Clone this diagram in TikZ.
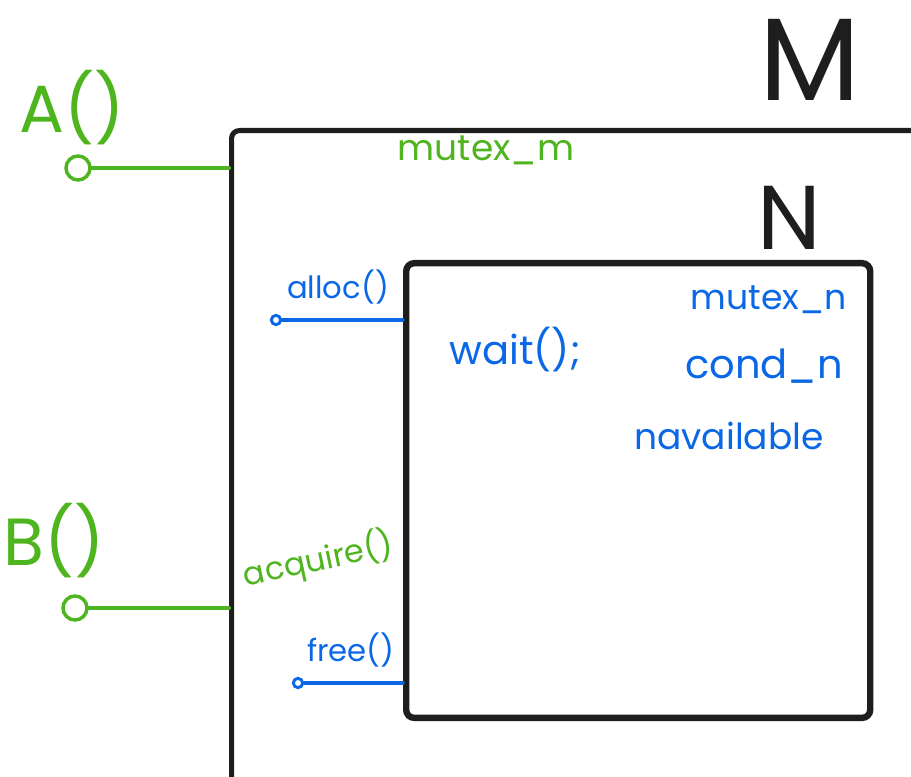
\documentclass[tikz,border=0pt]{standalone}
\usepackage{fontspec}
\setmainfont{Poppins}
\usepackage{tikz}

\definecolor{mgreen}{RGB}{78,181,30}
\definecolor{nblue}{RGB}{10,104,230}
\definecolor{ink}{RGB}{30,30,30}

\begin{document}
\begin{tikzpicture}[x=0.75pt,y=0.75pt,yscale=-1,xscale=1,
  box/.style={draw=ink,rectangle,rounded corners=6pt,anchor=north west,inner sep=0pt},
  gport/.style={draw=mgreen,circle,line width=2.6pt,minimum size=18pt,inner sep=0pt},
  bport/.style={draw=nblue,circle,line width=2.2pt,minimum size=7pt,inner sep=0pt},
  gwire/.style={draw=mgreen,line width=3pt,line cap=round},
  bwire/.style={draw=nblue,line width=2.5pt,line cap=round},
  gtext/.style={text=mgreen,inner sep=0pt},
  btext/.style={text=nblue,inner sep=0pt},
  bigletter/.style={text=ink,inner sep=0pt}]
\useasboundingbox (0,0) rectangle (911,777);
\clip (0,0) rectangle (911,777);

%Shape: Outer box M
\node[box,line width=3.8pt,minimum width=750pt,minimum height=600pt] (M) at (229,128) {};
%Shape: Inner box N
\node[box,line width=4.8pt,minimum width=348pt,minimum height=341pt] (N) at (403,260) {};

% Box labels
\node[bigletter,font=\fontsize{88}{90}\selectfont] (Mlab) at (810,60) {M};
\node[bigletter,font=\fontsize{68}{70}\selectfont] (Nlab) at (789,218) {N};

% Ports of M
\node[gport] (pA) at (78,168) {};
\node[gport] (pB) at (75,608) {};
\draw[gwire] (pA) -- (pA -| M.west);
\draw[gwire] (pB) -- (pB -| M.west);

% Ports of N
\node[bport] (pAlloc) at (276,320) {};
\node[bport] (pFree) at (298,683) {};
\draw[bwire] (pAlloc) -- (pAlloc -| N.west);
\draw[bwire] (pFree) -- (pFree -| N.west);

% Text Node
\node[gtext,font=\fontsize{50}{52}\selectfont] (tA) at (72,108) {A()};
\node[gtext,font=\fontsize{50}{52}\selectfont] (tB) at (54,541) {B()};
\node[gtext,font=\fontsize{27}{29}\selectfont] (tMutexM) at (486,150) {mutex\_m};
\node[gtext,font=\fontsize{24}{26}\selectfont,rotate=12] (tAcquire) at (318,560) {acquire()};
% Text Node
\node[btext,font=\fontsize{23}{25}\selectfont] (tAlloc) at (338,287) {alloc()};
\node[btext,font=\fontsize{23}{25}\selectfont] (tFree) at (351,650) {free()};
\node[btext,font=\fontsize{30}{32}\selectfont] (tWait) at (515,350) {wait();};
\node[btext,font=\fontsize{26}{28}\selectfont] (tMutexN) at (769,300) {mutex\_n};
\node[btext,font=\fontsize{30}{32}\selectfont] (tCond) at (764,366) {cond\_n};
\node[btext,font=\fontsize{27}{29}\selectfont] (tNavail) at (729,436) {navailable};

\end{tikzpicture}
\end{document}
